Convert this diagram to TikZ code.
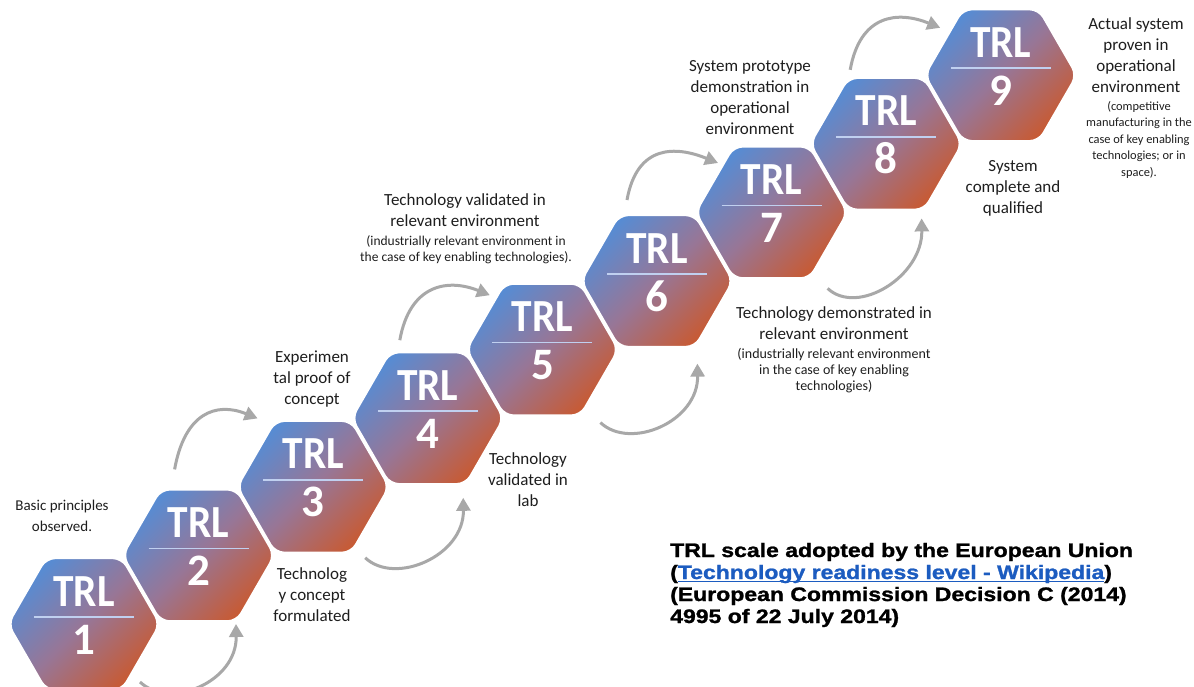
\documentclass[tikz,border=0pt]{standalone}
\usepackage{fontspec}
\usepackage{graphicx}
\setmainfont{Carlito}
\newfontfamily\eufont{Liberation Sans}[BoldFeatures={FakeBold=1.2}]
\usetikzlibrary{arrows.meta}
\definecolor{hexblue}{RGB}{86,140,212}
\definecolor{hexmid}{RGB}{152,118,150}
\definecolor{hexred}{RGB}{200,90,50}
\definecolor{hexline}{RGB}{192,208,240}
\definecolor{arrowgray}{RGB}{168,168,168}
\definecolor{labelcol}{RGB}{30,30,30}
\definecolor{linkblue}{RGB}{28,92,192}
\newcommand\linkul[1]{\setbox0=\hbox{#1}\rlap{\rule[-3.2pt]{\wd0}{1.6pt}}\box0}
\begin{document}
\begin{tikzpicture}[x=1pt,y=1pt,
  hexa/.style={top color=hexblue, bottom color=hexred, middle color=hexmid, shading angle=45, draw=white, line width=2pt, rounded corners=9pt},
  trl/.style={text=white, font=\fontsize{46}{46}\selectfont\bfseries, anchor=base, inner sep=0pt},
  lvl/.style={text=white, font=\fontsize{45}{45}\selectfont\bfseries, anchor=base, inner sep=0pt},
  flow/.style={draw=arrowgray, line width=3pt, -{Triangle[length=13pt,width=14pt]}},
  lbl/.style={align=center, font=\fontsize{17}{21}\selectfont, inner sep=0pt, text=labelcol},
  sml/.style={align=center, font=\fontsize{14}{16.2}\selectfont, inner sep=0pt, text=labelcol},
  eu/.style={anchor=base west, inner sep=0pt, font=\eufont\bfseries\fontsize{19.5}{22}\selectfont}
]
\fill[white] (0,0) rectangle (1194,-686);
\useasboundingbox (0,0) rectangle (1194,-686);
\clip (0,0) rectangle (1194,-686);

\foreach \i in {1,...,9} {
  \pgfmathsetmacro\cx{84+114.6*(\i-1)}
  \pgfmathsetmacro\cy{-624+68.6*(\i-1)}
  \coordinate (h\i) at (\cx,\cy);
}

\foreach \i in {1,...,9} {
  \shadedraw[hexa] ([shift={(0:76)}]h\i) -- ++(120:76) -- ++(180:76) -- ++(240:76) -- ++(300:76) -- ++(0:76) -- cycle;
  \draw[hexline, line width=1.6pt] ([shift={(-50,7)}]h\i) -- ([shift={(50,7)}]h\i);
  \node[trl] (t\i) at ([yshift=18]h\i) {\scalebox{0.9}[1]{TRL}};
  \node[lvl] (d\i) at ([yshift=-30]h\i) {\i};
}

% arrows above the chain
\foreach \i/\sx/\sy/\ex/\ey in {2/-24/86/59/137, 4/-28/78/62/123, 6/-30/81/61/118, 8/-36/74/54/116} {
  \coordinate (us\i) at ([shift={(\sx,\sy)}]h\i);
  \coordinate (ue\i) at ([shift={(\ex,\ey)}]h\i);
  \draw[flow] (us\i) .. controls +(10,56) and +(-42,17) .. (ue\i);
}
% arrows below the chain
\foreach \i/\sx/\sy/\ex/\ey in {1/56/-58/152/0, 3/52/-71/150/-11, 5/58/-73/155/-14, 7/56/-76/150/-6} {
  \coordinate (ls\i) at ([shift={(\sx,\sy)}]h\i);
  \coordinate (le\i) at ([shift={(\ex,\ey)}]h\i);
  \draw[flow] (ls\i) .. controls +(30,-28) and +(1,-58) .. (le\i);
}

% labels
\node[lbl, font=\fontsize{15}{21}\selectfont] (l1) at (62,-515.5) {Basic principles\\observed.};
\node[lbl] (l2) at (312,-379.5) {Experimen\\tal proof of\\concept};
\node[lbl] (l3) at (312,-595) {Technolog\\y concept\\formulated};
\node[lbl] (l4) at (528,-479.5) {Technology\\validated in\\lab};
\node[lbl] (l5) at (465,-210.5) {Technology validated in\\relevant environment};
\node[sml, font=\fontsize{13.5}{15.8}\selectfont] (l5s) at (466,-250) {(industrially relevant environment in\\the case of key enabling technologies).};
\node[lbl] (l6) at (834,-323.5) {Technology demonstrated in\\relevant environment};
\node[sml] (l6s) at (834,-370.5) {(industrially relevant environment\\in the case of key enabling\\technologies)};
\node[lbl] (l7) at (750,-98) {System prototype\\demonstration in\\operational\\environment};
\node[lbl] (l8) at (1013,-188) {System\\complete and\\qualified};
\node[lbl] (l9) at (1136,-55) {Actual system\\proven in\\operational\\environment};
\node[sml, font=\fontsize{12.4}{16.5}\selectfont] (l9s) at (1139,-139.5) {(competitive\\manufacturing in the\\case of key enabling\\technologies; or in\\space).};

% source note
\node[eu] (e1) at (670,-557) {\scalebox{1.18}[1]{TRL scale adopted by the European Union}};
\node[eu] (e2) at (670,-579) {\scalebox{1.18}[1]{(\textcolor{linkblue}{\linkul{Technology readiness level - Wikipedia}})}};
\node[eu] (e3) at (670,-601) {\scalebox{1.18}[1]{(European Commission Decision C (2014)}};
\node[eu] (e4) at (670,-623) {\scalebox{1.18}[1]{4995 of 22 July 2014)}};
\end{tikzpicture}
\end{document}
